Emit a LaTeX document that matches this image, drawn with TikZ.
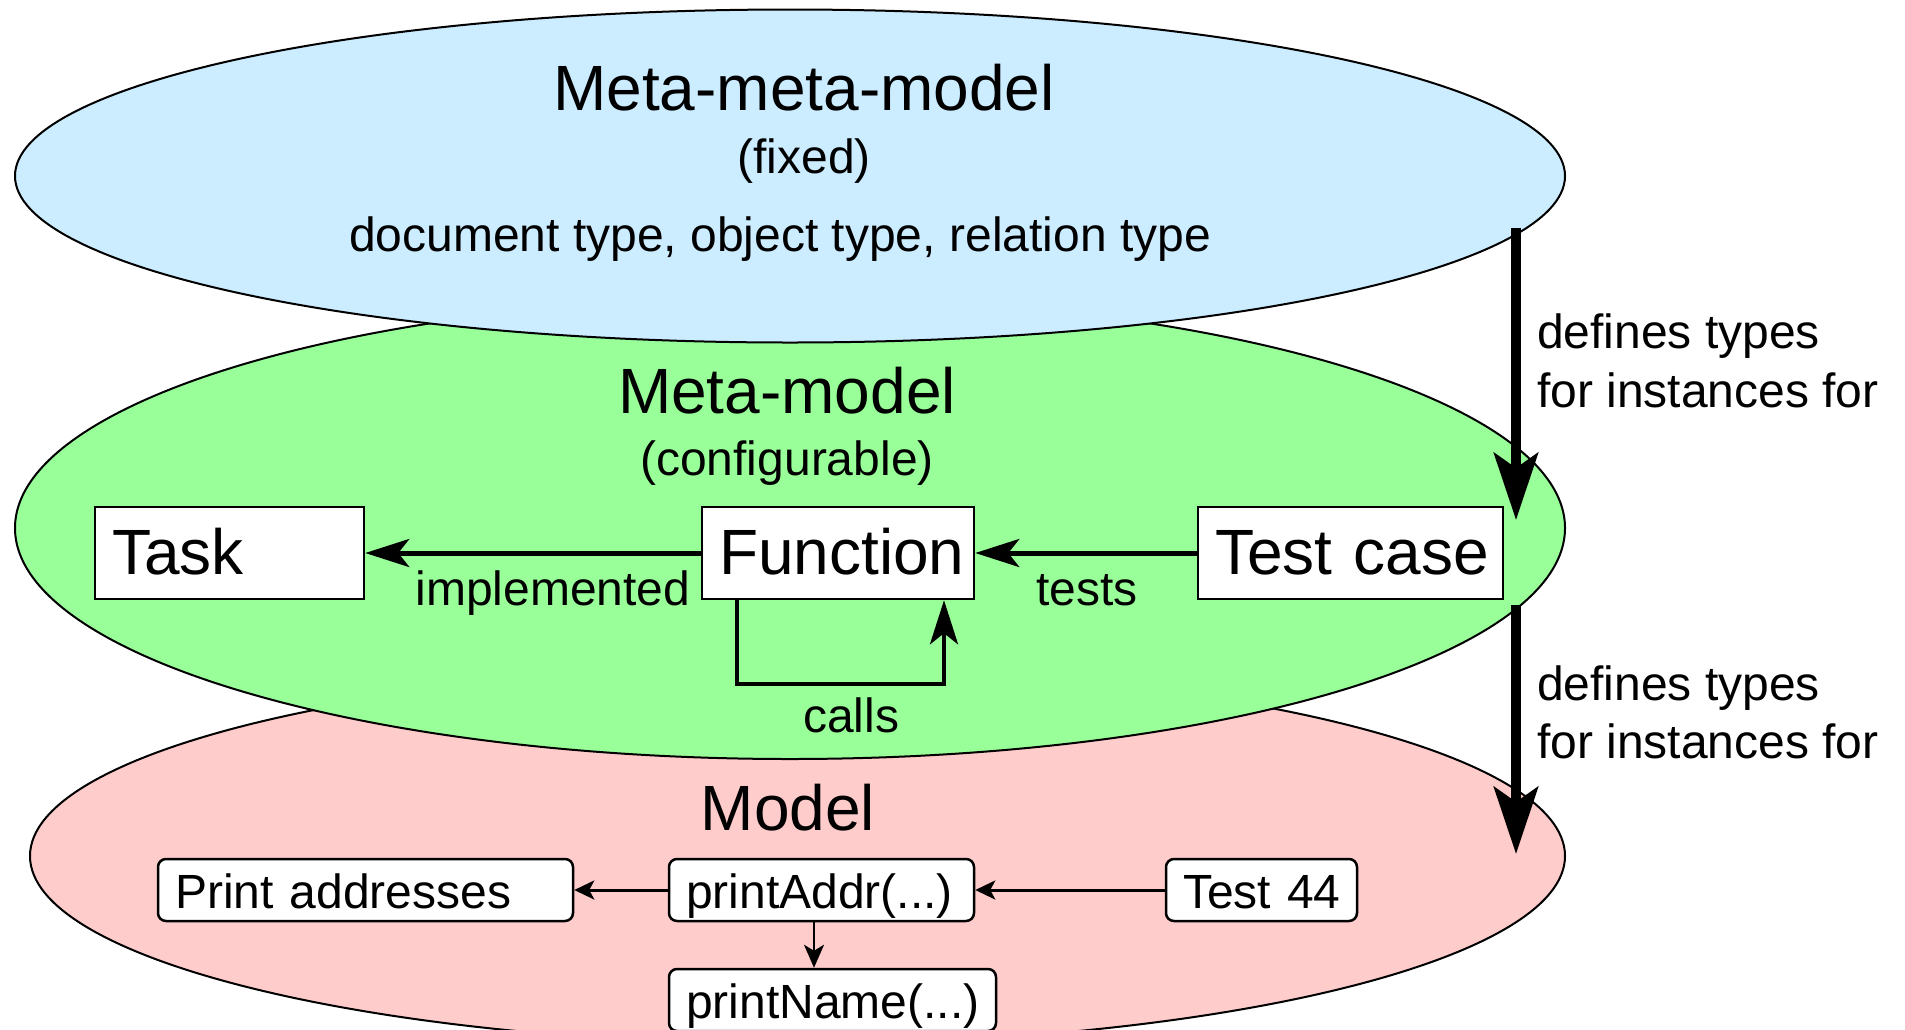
\documentclass[tikz,border=0pt]{standalone}
\usepackage{fontspec}
\setmainfont{Liberation Sans}
\usetikzlibrary{shapes.geometric,arrows.meta}
\definecolor{mmblue}{RGB}{204,236,255}
\definecolor{mgreen}{RGB}{153,255,153}
\definecolor{mpink}{RGB}{255,204,204}
\tikzset{
  bigfont/.style={font=\fontsize{64}{72}\selectfont},
  medfont/.style={font=\fontsize{48}{58}\selectfont},
  layer/.style={ellipse, draw, line width=2pt, inner sep=0pt},
  lbl/.style={inner sep=0pt, anchor=base},
  sidelbl/.style={inner sep=0pt, anchor=base west, medfont},
  mbox/.style={draw, fill=white, line width=2.5pt, minimum height=92pt, inner xsep=17pt, inner ysep=0pt,
    align=left, bigfont, text height=43pt, text depth=0pt},
  rbox/.style={draw, fill=white, rounded corners=8pt, line width=2.5pt, minimum height=62pt, inner xsep=17pt, inner ysep=0pt,
    align=left, medfont, text height=36pt, text depth=0pt},
  bigarr/.style={line width=10pt, -{Stealth[length=67pt,width=44pt,inset=15pt]}},
  midarr/.style={line width=5pt, -{Stealth[length=44pt,width=28pt,inset=11pt]}},
  smallarr/.style={line width=3pt, -{Stealth[length=20pt,width=19pt,inset=5pt]}},
  tinyarr/.style={line width=2.5pt, -{Stealth[length=23pt,width=20pt,inset=6pt]}},
}
\begin{document}
\begin{tikzpicture}[x=1pt,y=-1pt]
\useasboundingbox (0,0) rectangle (1905,1029);
\fill[white] (0,0) rectangle (1905,1029);
% layers
\node[layer, fill=mpink, minimum width=1535pt, minimum height=376pt] (model) at (797.5,856) {};
\node[layer, fill=mgreen, minimum width=1550pt, minimum height=462pt] (meta) at (790,528) {};
\node[layer, fill=mmblue, minimum width=1550pt, minimum height=333pt] (mmeta) at (790,176) {};
% layer titles
\node[lbl, bigfont] (mmtitle) at (804,110) {Meta-meta-model};
\node[lbl, medfont] (mmfixed) at (804,173) {(fixed)};
\node[lbl, medfont] (mmtypes) at (780,251) {document type, object type, relation type};
\node[lbl, bigfont] (mtitle) at (787,413) {Meta-model};
\node[lbl, medfont] (mconf) at (787,475) {(configurable)};
\node[lbl, bigfont] (modtitle) at (788,830) {Model};
% meta-model boxes
\node[mbox, text width=235pt] (task) at (229.5,553) {\mbox{Task}};
\node[mbox, text width=238pt] (fn) at (838,553) {\mbox{Function}};
\node[mbox, text width=271pt] (tc) at (1350.5,553) {\mbox{Test case}};
% model boxes
\node[rbox, text width=381pt] (prn) at (365.5,890) {\mbox{Print addresses}};
\node[rbox, text width=271pt] (pa) at (821.5,890) {\mbox{printAddr(...)}};
\node[rbox, text width=157pt] (t44) at (1261.5,890) {\mbox{Test 44}};
\node[rbox, text width=293pt] (pn) at (832.5,1000) {\mbox{printName(...)}};
% meta-model connectors
\draw[midarr] (fn.west) -- (task.east);
\draw[midarr] (tc.west) -- (fn.east);
\coordinate (cl1) at (737,684);
\coordinate (cl2) at (944,684);
\draw[midarr, line width=4.5pt] (cl1 |- fn.south) -- (cl1) -- (cl2) -- (cl2 |- fn.south);
\node[lbl, medfont] (limpl) at (553,605) {implemented};
\node[lbl, medfont] (ltests) at (1087,605) {tests};
\node[lbl, medfont] (lcalls) at (851,732) {calls};
% model connectors
\draw[smallarr] (pa.west) -- (prn.east);
\draw[smallarr] (t44.west) -- (pa.east);
\coordinate (dx) at (814,0);
\draw[tinyarr] (dx |- pa.south) -- (dx |- pn.north);
% defines arrows
\coordinate (tip1) at (1516,520);
\coordinate (tip2) at (1516,854);
\draw[bigarr] (mmeta.-4.57 -| tip1) -- (tip1);
\draw[bigarr] (meta.-6.33 -| tip2) -- (tip2);
\node[sidelbl] (d1a) at (1537,348) {defines types};
\node[sidelbl] (d1b) at (1537,407) {for instances for};
\node[sidelbl] (d2a) at (1537,700) {defines types};
\node[sidelbl] (d2b) at (1537,758) {for instances for};
\end{tikzpicture}
\end{document}
